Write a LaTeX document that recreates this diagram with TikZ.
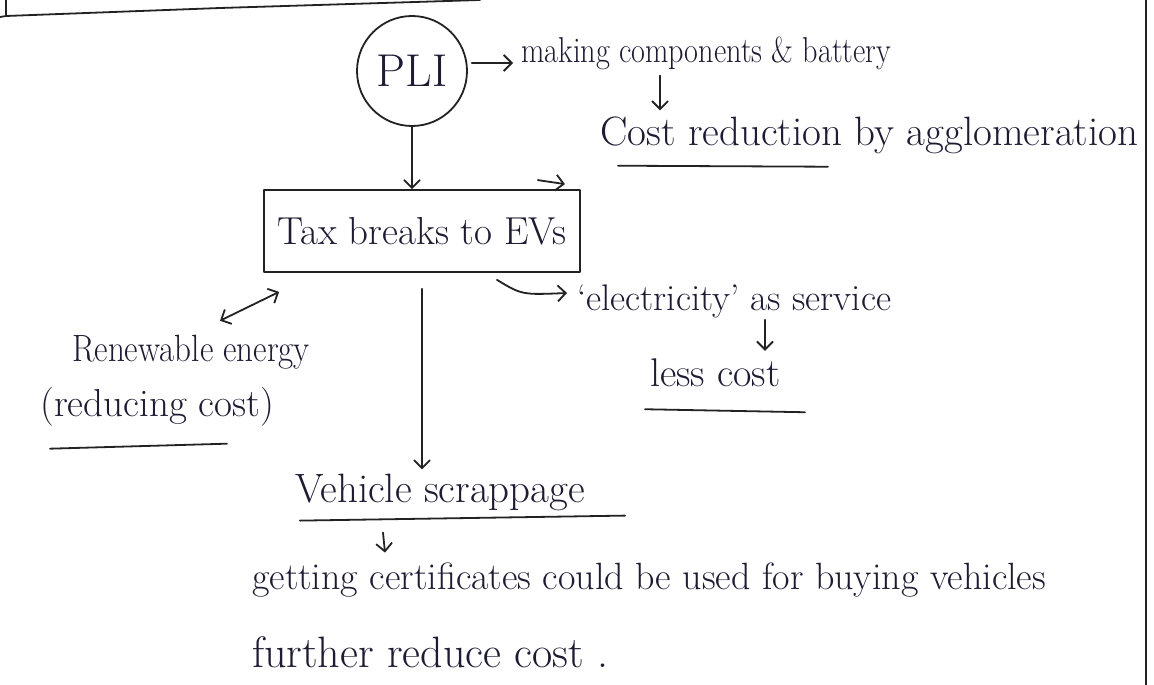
\documentclass[tikz,border=0pt]{standalone}
\usetikzlibrary{arrows.meta,shapes.geometric,calc}
\definecolor{ink}{HTML}{1E1B33}
\definecolor{pen}{HTML}{222222}
\begin{document}
\begin{tikzpicture}[x=1pt,y=-1pt,
  hand/.style={font=\fontsize{#1}{#1}\selectfont, text=ink, inner sep=0pt, anchor=west},
  hand/.default=34,
  stroke/.style={draw=pen, line width=1.8pt, line cap=round, line join=round},
  arr/.style={stroke, -{Straight Barb[length=8pt,width=16pt]}},
  darr/.style={stroke, {Straight Barb[length=8pt,width=16pt]}-{Straight Barb[length=8pt,width=16pt]}},
  uline/.style={stroke}]
\useasboundingbox (0,0) rectangle (1154,685);
\fill[white] (0,0) rectangle (1154,685);
% frame fragments
\draw[stroke] (0,17) -- (6,16) -- (220,8) -- (480,0);
\draw[stroke] (6,0) -- (6,16);
\draw[stroke] (1146,0) -- (1146,685);
% nodes
\node[stroke, ellipse, minimum width=110, minimum height=110, inner sep=0pt,
      font=\fontsize{46}{46}\selectfont, text=ink] (pli) at (412,71) {PLI};
\node[hand=36] (making) at (521,53) {\scalebox{0.84}[1]{making components \& battery}};
\node[hand=41] (cost) at (600,135) {Cost reduction by agglomeration};
\node[stroke, minimum width=316, minimum height=82, inner sep=0pt,
      font=\fontsize{39}{39}\selectfont, text=ink] (box) at (422,231) {Tax breaks to EVs};
\node[hand=37] (elec) at (577,301) {`electricity' as service};
\node[hand=40] (less) at (650,373) {less cost};
\node[hand=38] (renew) at (72,352) {\scalebox{0.87}[1]{Renewable energy}};
\node[hand=39] (reduc) at (40,407) {(reducing cost)};
\node[hand=41] (veh) at (295,492) {Vehicle scrappage};
\node[hand=38] (get) at (252,580) {getting certificates could be used for buying vehicles};
\node[hand=44] (further) at (252,652) {further reduce cost .};
% connectors
\draw[arr] ($(pli.east)+(4,-8)$) -- ($(making.west)+(-8,10)$);
\draw[arr] ($(making.south west)+(139,6)$) -- ($(cost.north west)+(60,-6)$);
\draw[arr] (pli.south) -- (pli.south |- box.north);
\draw[arr] ($(box.south)+(0,16)$) -- ($(veh.north west)+(127,-4)$);
\draw[arr] ($(box.south)+(75,7)$) .. controls ($(box.south)+(100,22)$) .. ($(elec.west)+(-10,-8)$);
\draw[arr] ($(elec.south west)+(188,2)$) -- ($(less.north west)+(115,-8)$);
\draw[darr] ($(renew.north west)+(148,-14)$) -- ($(box.south west)+(16,19)$);
\draw[arr] ($(veh.south west)+(88,22)$) -- ($(get.north west)+(133,-10)$);
\draw[arr] ($(box.north east)+(-43,-9)$) -- ($(box.north east)+(-16,-5)$);
% underlines
\draw[uline] ($(cost.south west)+(18,12)$) -- ($(cost.south west)+(228,13)$);
\draw[uline] ($(less.south west)+(-5,22)$) -- ($(less.south west)+(155,25)$);
\draw[uline] ($(reduc.south west)+(10,22)$) -- ($(reduc.south west)+(187,17)$);
\draw[uline] ($(veh.south west)+(5,10)$) -- ($(veh.south west)+(330,5)$);
\end{tikzpicture}
\end{document}
